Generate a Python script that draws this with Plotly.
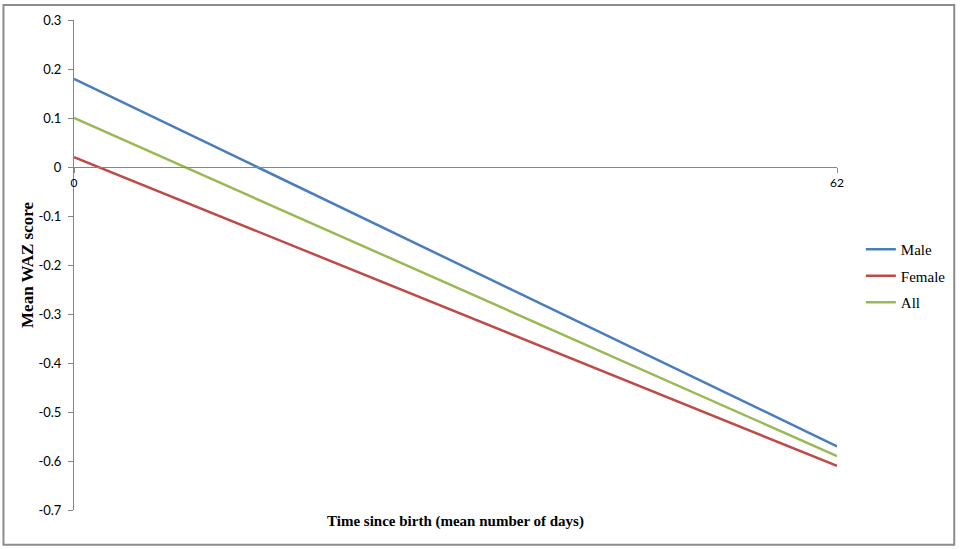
import plotly.graph_objects as go

# Data
DAYS = [0, 62]
MALE = [0.18, -0.57]
FEMALE = [0.02, -0.61]
ALL = [0.10, -0.59]

SERIES = ["Male", "Female", "All"]
COLORS = ["#4A7EBB", "#BE4B48", "#98B954"]

Y_TICKS = [0.3, 0.2, 0.1, 0, -0.1, -0.2, -0.3, -0.4, -0.5, -0.6, -0.7]
Y_LABELS = ["0.3", "0.2", "0.1", "0", "-0.1", "-0.2", "-0.3", "-0.4", "-0.5", "-0.6", "-0.7"]
X_TICKS = [0, 62]
X_LABELS = ["0", "62"]

# Plot area in pixels (963x549 page)
W, H = 963, 549
L, R, T, B = 74, 842, 18, 510


def px_to_paper(x, y):
    return (x - L) / (R - L), (B - y) / (B - T)


fig = go.Figure()

for i, (name, vals, color) in enumerate(zip(SERIES, [MALE, FEMALE, ALL], COLORS)):
    fig.add_trace(
        go.Scatter(
            x=DAYS,
            y=vals,
            mode="lines",
            name=name,
            legendgroup=f"g{i}",
            line=dict(color=color, width=2.5),
        )
    )

# outer border around the whole chart
x0, y0 = px_to_paper(3, 545)
x1, y1 = px_to_paper(960, 3)
fig.add_shape(
    type="rect", xref="paper", yref="paper",
    x0=x0, y0=y0, x1=x1, y1=y1,
    line=dict(color="#8C8C8C", width=2),
)

# x axis title sits at the bottom, not under the axis line
tx, ty = px_to_paper(458, 522)
fig.add_annotation(
    x=tx, y=ty, xref="paper", yref="paper",
    xanchor="center", yanchor="middle",
    text="<b>Time since birth (mean number of days)</b>",
    showarrow=False,
    font=dict(family="Liberation Serif", size=15, color="#000000"),
)

fig.update_layout(
    width=W,
    height=H,
    margin=dict(l=L, r=W - R, t=T, b=H - B),
    plot_bgcolor="white",
    paper_bgcolor="white",
    showlegend=True,
    legend=dict(
        x=px_to_paper(866, 0)[0],
        y=px_to_paper(0, 275)[1],
        yanchor="middle",
        xanchor="left",
        font=dict(family="Liberation Serif", size=15, color="#000000"),
        itemwidth=30,
        tracegroupgap=4,
        traceorder="grouped",
        bgcolor="rgba(0,0,0,0)",
    ),
    xaxis=dict(
        range=[0, 62],
        anchor="free",
        position=0.7,
        tickvals=X_TICKS,
        ticktext=X_LABELS,
        ticks="outside",
        ticklen=5,
        tickcolor="#868686",
        showline=True,
        linecolor="#868686",
        linewidth=1,
        showgrid=False,
        zeroline=False,
        tickfont=dict(family="Lato", size=12, color="#000000"),
    ),
    yaxis=dict(
        range=[-0.7, 0.3],
        tickvals=Y_TICKS,
        ticktext=Y_LABELS,
        ticks="outside",
        ticklen=5,
        tickcolor="#868686",
        showline=True,
        linecolor="#868686",
        linewidth=1,
        showgrid=False,
        zeroline=False,
        ticklabelstandoff=4,
        tickfont=dict(family="Lato", size=13, color="#000000"),
        title=dict(
            text="<b>Mean WAZ score</b>",
            font=dict(family="Liberation Serif", size=17, color="#000000"),
            standoff=0,
        ),
    ),
)

# drop the default body margin so the figure fills the window
fig.write_html(
    "out.html",
    config={"displayModeBar": False},
    post_script="document.body.style.margin = '0';",
)
